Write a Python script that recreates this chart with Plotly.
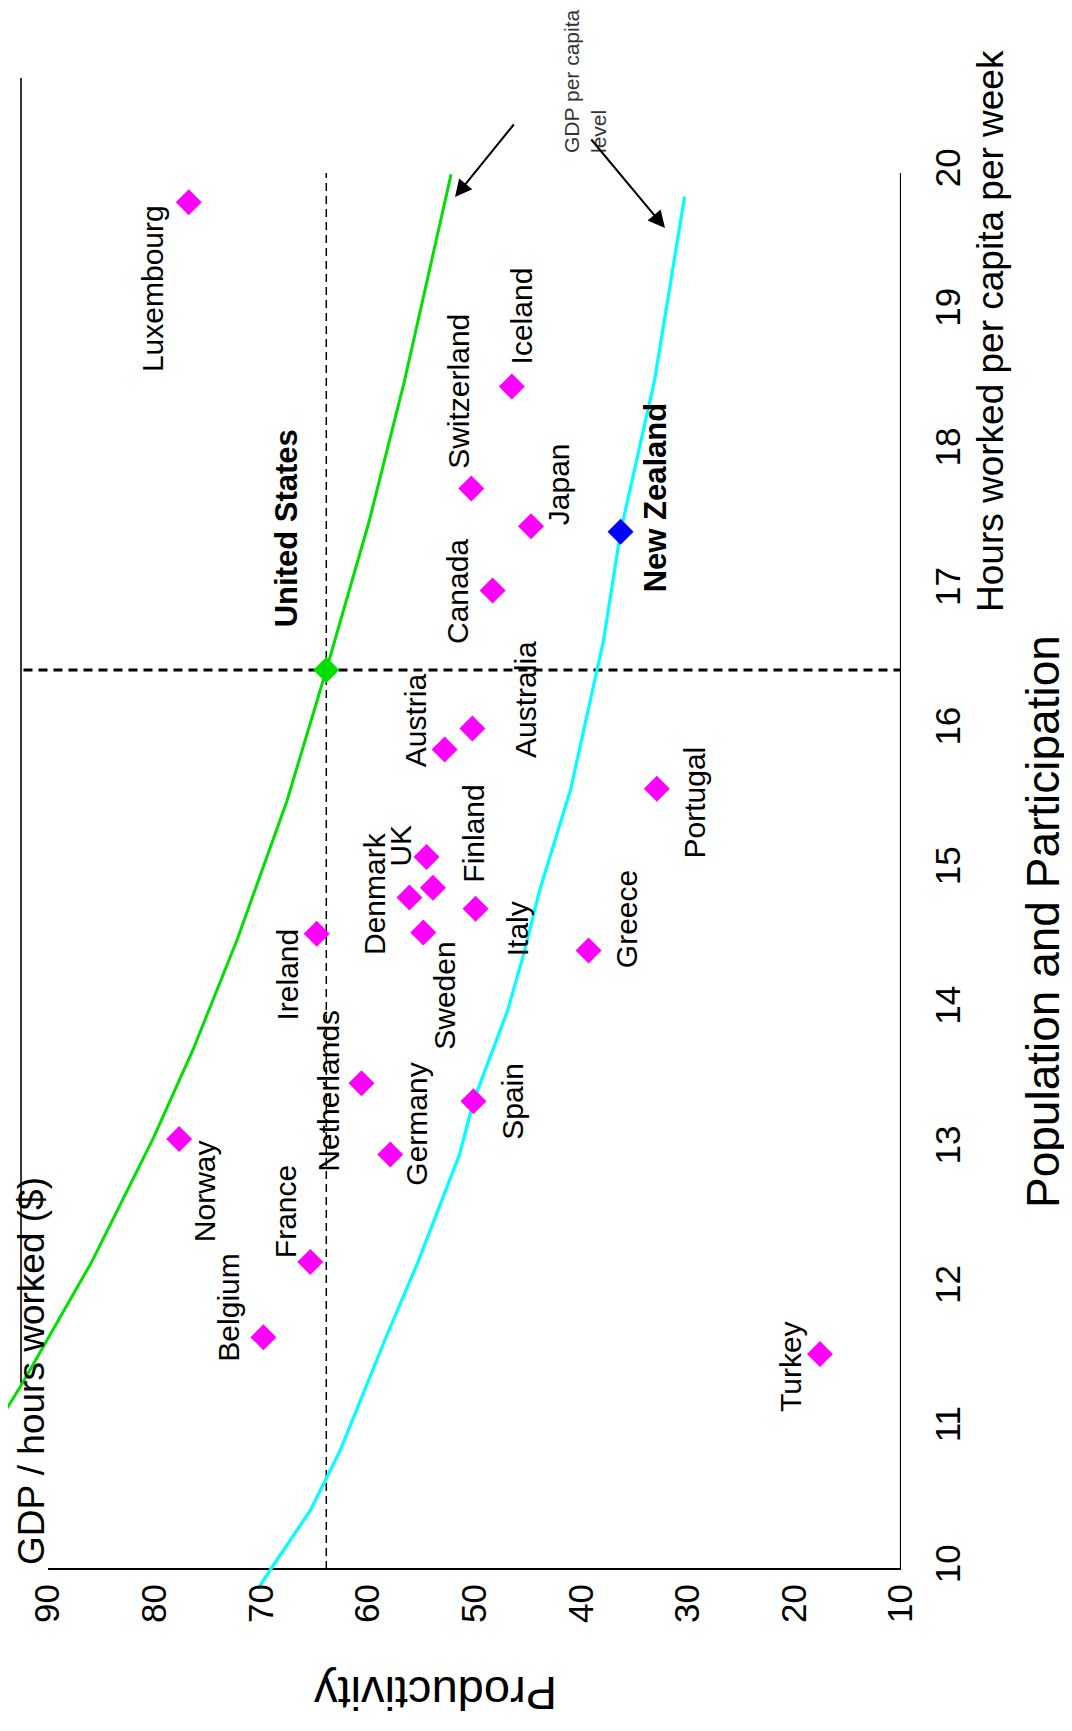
import plotly.graph_objects as go

# ---------------- data ----------------
countries = ["Luxembourg", "Iceland", "Switzerland", "Japan", "Canada", "United States",
             "Australia", "Austria", "Portugal", "UK", "Finland", "Denmark", "Sweden",
             "Italy", "Ireland", "Greece", "Netherlands", "Spain", "Germany", "Norway",
             "France", "Belgium", "Turkey", "New Zealand"]
hours_worked = [19.79, 18.47, 17.74, 17.47, 17.01, 16.44,
                16.02, 15.87, 15.59, 15.10, 14.88, 14.81, 14.56,
                14.73, 14.55, 14.43, 13.48, 13.35, 12.97, 13.08,
                12.20, 11.66, 11.54, 17.43]
productivity = [76.8, 46.5, 50.3, 44.7, 48.3, 63.9,
                50.2, 52.8, 32.9, 54.5, 53.9, 56.1, 54.8,
                49.9, 64.8, 39.3, 60.6, 50.1, 57.9, 77.7,
                65.4, 69.8, 17.6, 36.3]

# US GDP-per-capita level curve (green)
us_curve_hours = [10.90, 11.07, 11.33, 12.20, 13.09, 13.72, 14.50, 15.50, 16.44, 17.50, 18.50, 19.99]
us_curve_prod = [96.2, 94.5, 92.4, 85.9, 80.1, 76.4, 72.3, 67.6, 63.9, 59.9, 56.6, 52.2]

# New Zealand GDP-per-capita level curve (cyan)
nz_curve_hours = [9.86, 10.00, 10.42, 10.85, 11.66, 12.20, 12.97, 13.35, 14.00, 14.43, 14.86,
                  15.58, 16.65, 17.43, 18.52, 19.83]
nz_curve_prod = [70.3, 69.1, 65.4, 62.6, 58.3, 55.3, 51.4, 50.1, 46.9, 45.3, 43.9,
                 41.0, 37.9, 36.3, 33.1, 30.3]

x_ticks = [90, 80, 70, 60, 50, 40, 30, 20, 10]
y_ticks = [10, 11, 12, 13, 14, 15, 16, 17, 18, 19, 20]

us_hours = 16.44
us_prod = 63.9

# ---------------- styling / layout ----------------
OFF = 8                      # page offset of the figure (body margin)
W, H = 1072 - OFF, 1731 - OFF
PL, PT = OFF, OFF            # plot area top-left in page pixels
PR, PB = 901, 1600           # plot area bottom-right in page pixels
PW, PH = PR - PL, PB - PT
FONT = "Liberation Sans, Arial, Helvetica, sans-serif"
MAGENTA, BLUE, GREEN, CYAN = "#FF00FF", "#0000FF", "#00E000", "#00FFFF"

# label offsets in pixels (dx right, dy down) relative to each marker
label_offsets = {
    "Luxembourg": (-36, 86), "Iceland": (10, -71), "Switzerland": (-13, -97),
    "Japan": (27, -42), "Canada": (-35, 1), "United States": (-39, -142),
    "Australia": (53, -29), "Austria": (-29, -29), "Portugal": (38, 14),
    "UK": (-26, -11), "Finland": (41, -54), "Denmark": (-35, -4),
    "Sweden": (21, 63), "Italy": (42, 20), "Ireland": (-29, 41),
    "Greece": (38, -31), "Netherlands": (-33, 7), "Spain": (39, 0),
    "Germany": (26, -30), "Norway": (25, 52), "France": (-24, -50),
    "Belgium": (-35, -30), "Turkey": (-30, 12), "New Zealand": (35, -34),
}
bold_labels = {"United States", "New Zealand"}


def px(xp):
    return (xp - PL) / PW


def py(yp):
    return 1 - (yp - PT) / PH


marker_colors = [BLUE if c == "New Zealand" else GREEN if c == "United States" else MAGENTA
                 for c in countries]

fig = go.Figure()

fig.add_trace(go.Scatter(x=us_curve_prod, y=us_curve_hours, mode="lines",
                         line=dict(color=GREEN, width=3), hoverinfo="skip"))
fig.add_trace(go.Scatter(x=nz_curve_prod, y=nz_curve_hours, mode="lines",
                         line=dict(color=CYAN, width=3.2), hoverinfo="skip"))
fig.add_trace(go.Scatter(x=productivity, y=hours_worked, mode="markers", text=countries,
                         marker=dict(symbol="diamond", size=20, color=marker_colors,
                                     line=dict(width=0))))

shapes = [
    dict(type="line", xref="x", yref="y", x0=90, x1=10, y0=10, y1=10, layer="below",
         line=dict(color="black", width=2.2)),
    dict(type="line", xref="x", yref="y", x0=10, x1=10, y0=10, y1=20, layer="below",
         line=dict(color="black", width=2.2)),
    dict(type="line", xref="x", yref="y", x0=92.53, x1=92.53, y0=11.33, y1=20.68,
         layer="below", line=dict(color="#333333", width=2)),
    dict(type="line", xref="x", yref="y", x0=us_prod, x1=us_prod, y0=10, y1=20,
         layer="below", line=dict(color="black", width=1.5, dash="8px,5px")),
    dict(type="line", xref="x", yref="y", x0=92.3, x1=10, y0=us_hours, y1=us_hours,
         layer="below", line=dict(color="black", width=3, dash="9px,6px")),
]

annotations = []
for c, h, p in zip(countries, hours_worked, productivity):
    dx, dy = label_offsets[c]
    txt = f"<b>{c}</b>" if c in bold_labels else c
    annotations.append(dict(x=p, y=h, xref="x", yref="y", text=txt, showarrow=False,
                            textangle=-90, xshift=dx, yshift=-dy,
                            xanchor="center", yanchor="middle",
                            font=dict(family=FONT, size=31 if c in bold_labels else 30,
                                      color="black")))


def note(xp, yp, text, size, angle, color="black", align="center"):
    return dict(x=px(xp), y=py(yp), xref="paper", yref="paper", text=text,
                showarrow=False, textangle=angle, xanchor="center", yanchor="middle",
                align=align, font=dict(family=FONT, size=size, color=color))


annotations += [
    note(991, 331, "Hours worked per capita per week", 37, -90),
    note(1043, 922, "Population and Participation", 46, -90),
    note(436, 1694, "Productivity", 47, 180),
    note(31, 1371, "GDP / hours worked ($)", 37, -90),
    note(585, 81, "GDP per capita<br>level", 21, -90, color="#333333", align="left"),
    dict(x=px(455), y=py(197), xref="paper", yref="paper", text="", showarrow=True,
         ax=60, ay=-74, arrowhead=2, arrowsize=1.7, arrowwidth=2, arrowcolor="black"),
    dict(x=px(665), y=py(228), xref="paper", yref="paper", text="", showarrow=True,
         ax=-75, ay=-90, arrowhead=2, arrowsize=1.7, arrowwidth=2, arrowcolor="black"),
]

PX_PER_PROD = 10.66
PX_PER_HOUR = 139.6
x_left = 90 + (48 - PL) / PX_PER_PROD
y_lo = 10 - (PB - 1569) / PX_PER_HOUR
y_hi = 20 + (173 - PT) / PX_PER_HOUR

fig.update_layout(
    width=W, height=H,
    margin=dict(l=0, r=W - PW, t=0, b=H - PH, pad=0),
    paper_bgcolor="white", plot_bgcolor="white",
    showlegend=False,
    font=dict(family=FONT, color="black"),
    xaxis=dict(range=[x_left, 10], tickvals=x_ticks, ticktext=[str(v) for v in x_ticks],
               tickangle=-90, tickfont=dict(size=35, family=FONT, color="black"),
               showgrid=False, zeroline=False, showline=False, ticks="",
               anchor="free", position=py(1569), ticklabelstandoff=7, fixedrange=True),
    yaxis=dict(range=[y_lo, y_hi], tickvals=y_ticks, ticktext=[str(v) for v in y_ticks],
               tickangle=-90, tickfont=dict(size=35, family=FONT, color="black"),
               showgrid=False, zeroline=False, showline=False, ticks="",
               side="right", ticklabelstandoff=23, fixedrange=True),
    shapes=shapes,
    annotations=annotations,
)

fig.write_html("out.html")
